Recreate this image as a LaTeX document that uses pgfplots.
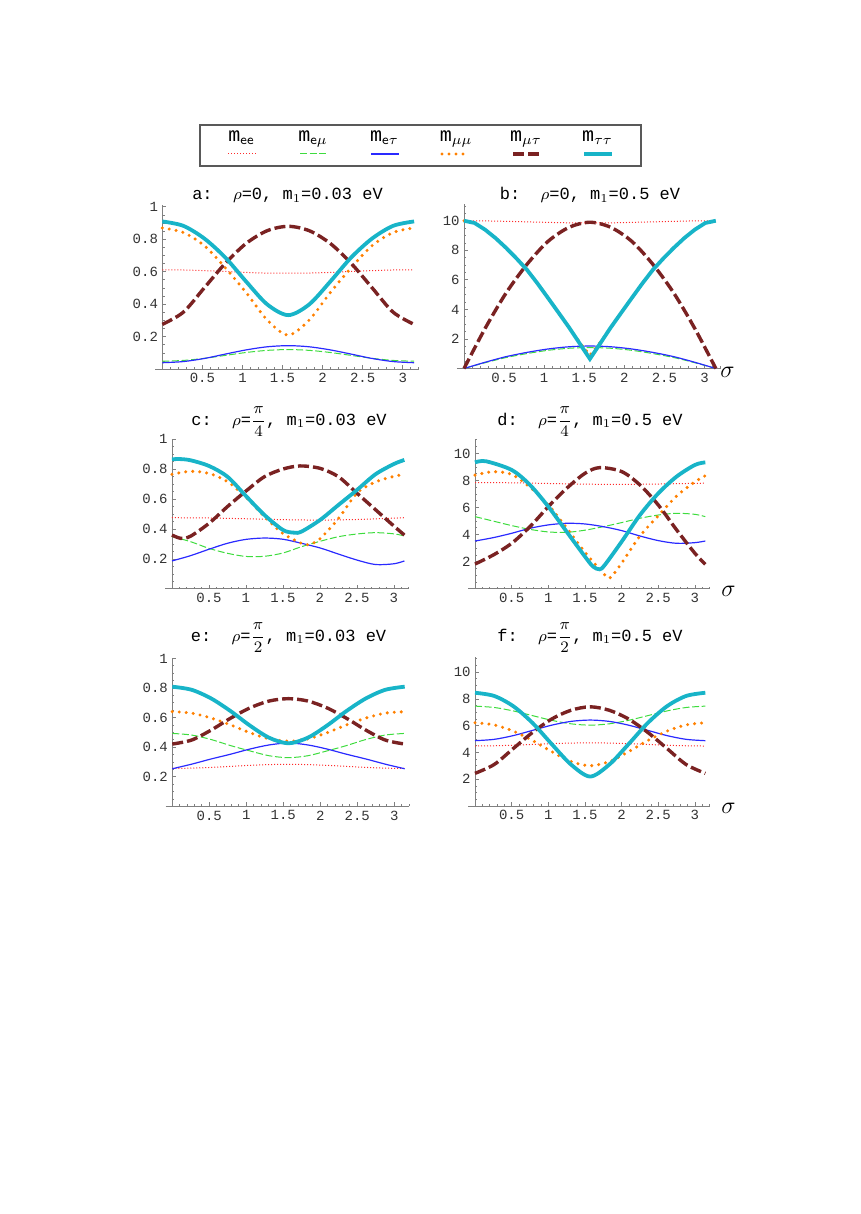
\documentclass[border=0pt]{standalone}
\usepackage{pgfplots}
\pgfplotsset{compat=1.18}
\usepackage{amsmath}
\usepackage{fontspec}
\newfontfamily\cour{Liberation Mono}
\definecolor{cee}{HTML}{FF2A2A}
\definecolor{cem}{HTML}{3EDC3E}
\definecolor{cet}{HTML}{2A2AFF}
\definecolor{cmm}{HTML}{FF8000}
\definecolor{cmt}{HTML}{7A2222}
\definecolor{ctt}{HTML}{18B4C8}
\definecolor{axgray}{HTML}{808080}

\tikzset{
  ee/.style={draw=cee, line width=0.5pt, dash pattern=on 0.5pt off 1pt},
  em/.style={draw=cem, line width=0.5pt, dash pattern=on 3.5pt off 1.3pt},
  et/.style={draw=cet, line width=0.6pt},
  mm/.style={draw=cmm, line width=1.7pt, line cap=round, dash pattern=on 0pt off 3.5pt},
  mt/.style={draw=cmt, line width=1.7pt, dash pattern=on 5.5pt off 2pt},
  tt/.style={draw=ctt, line width=1.9pt},
}
\newcommand{\tfont}{\fontsize{8.5}{10}\selectfont\cour}
\newcommand{\lab}[1]{{\fontsize{10}{11}\selectfont\cour m}$_{#1}$}

\pgfplotsset{
  mma/.style={
    scale only axis, axis lines=middle,
    axis line style={-, draw=axgray, line width=0.45pt},
    every inner x axis line/.append style={-},
    every inner y axis line/.append style={-},
    xmin=-0.09, xmax=3.2, ymin=0,
    xtick={0.5,1,1.5,2,2.5,3}, xticklabels={0.5,1,1.5,2,2.5,3},
    minor xtick={0.1,0.2,...,3.2},
    tick align=inside, major tick length=2pt, minor tick length=1.1pt,
    every tick/.style={axgray, line width=0.4pt},
    tick label style={font=\fontsize{7}{8}\selectfont\cour, text=black!80},
    xticklabel style={inner sep=1pt, yshift=-1pt},
    yticklabel style={inner sep=2pt},
    clip=false,
  },
  lowy/.style={ytick={0.2,0.4,0.6,0.8,1}, yticklabels={0.2,0.4,0.6,0.8,1},
    minor ytick={0.05,0.1,...,1.0}},
  highy/.style={ytick={2,4,6,8,10}, yticklabels={2,4,6,8,10},
    minor ytick={0.5,1,...,11}},
}

\begin{document}
\begin{tikzpicture}
\begin{scope}[x=0.5pt,y=-0.5pt]
  \path (0,0) rectangle (861,1214);
  % legend box
  \draw[black!65, line width=0.7pt] (200,125) rectangle (641,166);
  \node[anchor=base] at (241.5,142) {\lab{\mathsf{ee}}};
  \node[anchor=base] at (313,142) {\lab{\mathsf{e}\mu}};
  \node[anchor=base] at (384.5,142) {\lab{\mathsf{e}\tau}};
  \node[anchor=base] at (456,142) {\lab{\mu\mu}};
  \node[anchor=base] at (526,142) {\lab{\mu\tau}};
  \node[anchor=base] at (597.5,142) {\lab{\tau\tau}};
  \draw[ee] (228,154) -- (256,154);
  \draw[em] (300,154) -- (328,154);
  \draw[et] (371,154) -- (399,154);
  \draw[mm] (442,154) -- (468,154);
  \draw[mt] (513,154) -- (539,154);
  \draw[tt] (584,154) -- (612,154);
  % titles
  \node[anchor=base] at (287.5,200) {\tfont a:\ \ $\rho$=0, m$_1$=0.03 eV};
  \node[anchor=base] at (590,200) {\tfont b:\ \ $\rho$=0, m$_1$=0.5 eV};
  \node[anchor=base] at (289,425) {\tfont c:\ \ $\rho$=$\dfrac{\pi}{4}$, m$_1$=0.03 eV};
  \node[anchor=base] at (590,425) {\tfont d:\ \ $\rho$=$\dfrac{\pi}{4}$, m$_1$=0.5 eV};
  \node[anchor=base] at (288.5,641) {\tfont e:\ \ $\rho$=$\dfrac{\pi}{2}$, m$_1$=0.03 eV};
  \node[anchor=base] at (590,641) {\tfont f:\ \ $\rho$=$\dfrac{\pi}{2}$, m$_1$=0.5 eV};
  % sigma labels
  \node[anchor=west, inner sep=0pt] at (720,372) {\fontsize{13}{13}\selectfont$\sigma$};
  \node[anchor=west, inner sep=0pt] at (721,591) {\fontsize{13}{13}\selectfont$\sigma$};
  \node[anchor=west, inner sep=0pt] at (721,808) {\fontsize{13}{13}\selectfont$\sigma$};
\end{scope}

% ---------- a ----------
\begin{axis}[mma, lowy, at={(77.55pt,-184.6pt)}, anchor=south west,
  width=131.85pt, height=82pt, ymax=1.01]
\addplot[ee, smooth] coordinates {(0,0.612) (0.2618,0.611) (0.5236,0.607) (0.7854,0.602) (1.0472,0.596) (1.309,0.592) (1.5708,0.591) (1.8326,0.592) (2.0944,0.596) (2.3562,0.602) (2.618,0.607) (2.8798,0.611) (3.1416,0.612)};
\addplot[em, smooth] coordinates {(0,0.049) (0.2618,0.054) (0.5236,0.067) (0.7854,0.085) (1.0472,0.103) (1.309,0.116) (1.5708,0.121) (1.8326,0.116) (2.0944,0.103) (2.3562,0.085) (2.618,0.067) (2.8798,0.054) (3.1416,0.049)};
\addplot[et, smooth] coordinates {(0,0.040) (0.2618,0.047) (0.5236,0.066) (0.7854,0.093) (1.0472,0.119) (1.309,0.138) (1.5708,0.145) (1.8326,0.138) (2.0944,0.119) (2.3562,0.093) (2.618,0.066) (2.8798,0.047) (3.1416,0.040)};
\addplot[mm, smooth] coordinates {(0,0.870) (0.2618,0.842) (0.5236,0.761) (0.7854,0.625) (1.0472,0.471) (1.309,0.303) (1.5708,0.210) (1.8326,0.303) (2.0944,0.471) (2.3562,0.625) (2.618,0.761) (2.8798,0.842) (3.1416,0.870)};
\addplot[mt, smooth] coordinates {(0,0.276) (0.2618,0.351) (0.5236,0.501) (0.7854,0.652) (1.0472,0.775) (1.309,0.853) (1.5708,0.880) (1.8326,0.853) (2.0944,0.775) (2.3562,0.652) (2.618,0.501) (2.8798,0.351) (3.1416,0.276)};
\addplot[tt, smooth] coordinates {(0,0.910) (0.2618,0.883) (0.5236,0.805) (0.7854,0.688) (1.0472,0.539) (1.309,0.399) (1.5708,0.333) (1.8326,0.399) (2.0944,0.539) (2.3562,0.688) (2.618,0.805) (2.8798,0.883) (3.1416,0.910)};
\end{axis}

% ---------- b ----------
\begin{axis}[mma, highy, at={(228.4pt,-184.25pt)}, anchor=south west,
  width=131.85pt, height=82pt, ymax=11.1]
\addplot[ee, smooth] coordinates {(0,10.0) (0.2618,9.99) (0.5236,9.96) (0.7854,9.925) (1.0472,9.89) (1.309,9.86) (1.5708,9.85) (1.8326,9.86) (2.0944,9.89) (2.3562,9.925) (2.618,9.96) (2.8798,9.99) (3.1416,10.0)};
\addplot[em, smooth] coordinates {(0,0) (0.2618,0.39) (0.5236,0.74) (0.7854,1.01) (1.0472,1.23) (1.309,1.37) (1.5708,1.42) (1.8326,1.37) (2.0944,1.23) (2.3562,1.01) (2.618,0.74) (2.8798,0.39) (3.1416,0)};
\addplot[et, smooth] coordinates {(0,0) (0.2618,0.42) (0.5236,0.80) (0.7854,1.09) (1.0472,1.32) (1.309,1.47) (1.5708,1.52) (1.8326,1.47) (2.0944,1.32) (2.3562,1.09) (2.618,0.80) (2.8798,0.42) (3.1416,0)};
\addplot[mm] coordinates {(0,10.0) (0.1309,9.85) (0.2618,9.4) (0.3927,8.83) (0.5236,8.17) (0.6545,7.45) (0.7854,6.68) (0.9163,5.76) (1.0472,4.78) (1.1781,3.79) (1.309,2.79) (1.4399,1.8) (1.5708,0.9) (1.7017,1.8) (1.8326,2.79) (1.9635,3.79) (2.0944,4.78) (2.2253,5.76) (2.3562,6.68) (2.4871,7.45) (2.618,8.17) (2.7489,8.83) (2.8798,9.4) (3.0107,9.85) (3.1416,10.0)};
\addplot[mt, smooth] coordinates {(0,0) (0.2618,2.7) (0.5236,5.1) (0.7854,7.05) (1.0472,8.6) (1.309,9.55) (1.5708,9.9) (1.8326,9.55) (2.0944,8.6) (2.3562,7.05) (2.618,5.1) (2.8798,2.7) (3.1416,0)};
\addplot[tt] coordinates {(0,10.0) (0.1309,9.85) (0.2618,9.4) (0.3927,8.83) (0.5236,8.17) (0.6545,7.45) (0.7854,6.68) (0.9163,5.76) (1.0472,4.78) (1.1781,3.79) (1.309,2.79) (1.4399,1.72) (1.5708,0.65) (1.7017,1.72) (1.8326,2.79) (1.9635,3.79) (2.0944,4.78) (2.2253,5.76) (2.3562,6.68) (2.4871,7.45) (2.618,8.17) (2.7489,8.83) (2.8798,9.4) (3.0107,9.85) (3.1416,10.0)};
\end{axis}

% ---------- c ----------
\begin{axis}[mma, lowy, at={(82.65pt,-294.45pt)}, anchor=south west,
  width=121.7pt, height=74.8pt, ymax=1.0]
\addplot[ee, smooth] coordinates {(0,0.476) (0.5,0.474) (1,0.469) (1.5,0.463) (2,0.460) (2.5,0.464) (3,0.473) (3.1416,0.476)};
\addplot[em, smooth] coordinates {(0,0.350) (0.25,0.316) (0.5,0.271) (0.75,0.238) (1,0.217) (1.25,0.218) (1.5,0.240) (1.75,0.282) (2,0.318) (2.25,0.349) (2.5,0.367) (2.75,0.376) (3,0.368) (3.1416,0.354)};
\addplot[et, smooth] coordinates {(0,0.187) (0.25,0.222) (0.5,0.265) (0.75,0.305) (1,0.331) (1.25,0.340) (1.5,0.332) (1.75,0.305) (2,0.274) (2.25,0.233) (2.5,0.193) (2.75,0.163) (3,0.168) (3.1416,0.187)};
\addplot[mm, smooth] coordinates {(0,0.766) (0.25,0.786) (0.5,0.772) (0.75,0.717) (1,0.612) (1.25,0.483) (1.5,0.370) (1.75,0.305) (1.85,0.296) (2,0.335) (2.25,0.470) (2.5,0.640) (2.75,0.715) (3,0.752) (3.1416,0.766)};
\addplot[mt, smooth] coordinates {(0,0.360) (0.12,0.338) (0.25,0.352) (0.5,0.438) (0.75,0.550) (1,0.654) (1.25,0.750) (1.5,0.801) (1.73,0.822) (2,0.806) (2.25,0.750) (2.5,0.640) (2.75,0.530) (3,0.420) (3.1416,0.360)};
\addplot[tt, smooth] coordinates {(0,0.866) (0.1,0.868) (0.25,0.860) (0.5,0.822) (0.75,0.750) (1,0.621) (1.25,0.494) (1.5,0.394) (1.65,0.376) (1.75,0.383) (2,0.460) (2.25,0.561) (2.5,0.661) (2.75,0.766) (3,0.835) (3.1416,0.862)};
\end{axis}

% ---------- d ----------
\begin{axis}[mma, highy, at={(234.2pt,-294.4pt)}, anchor=south west,
  width=120.6pt, height=74.8pt, ymax=11.05]
\addplot[ee, smooth] coordinates {(0,7.85) (0.5,7.83) (1,7.78) (1.5,7.73) (2,7.71) (2.5,7.74) (3,7.79) (3.1416,7.80)};
\addplot[em, smooth] coordinates {(0,5.33) (0.25,5.00) (0.5,4.67) (0.75,4.39) (1,4.20) (1.25,4.17) (1.5,4.33) (1.75,4.59) (2,4.89) (2.25,5.21) (2.5,5.45) (2.75,5.58) (3,5.50) (3.1416,5.33)};
\addplot[et, smooth] coordinates {(0,3.53) (0.25,3.78) (0.5,4.10) (0.75,4.47) (1,4.72) (1.25,4.84) (1.5,4.79) (1.75,4.59) (2,4.30) (2.25,3.90) (2.5,3.56) (2.75,3.36) (3,3.41) (3.1416,3.53)};
\addplot[mm, smooth] coordinates {(0,8.40) (0.25,8.65) (0.5,8.45) (0.75,7.50) (1,6.20) (1.25,4.50) (1.5,2.70) (1.75,1.15) (1.84,0.80) (2,1.90) (2.25,3.90) (2.5,5.40) (2.75,6.85) (3,7.90) (3.1416,8.35)};
\addplot[mt, smooth] coordinates {(0,1.83) (0.25,2.50) (0.5,3.36) (0.75,4.59) (1,6.07) (1.25,7.42) (1.5,8.53) (1.7,8.95) (2,8.66) (2.25,7.67) (2.5,6.19) (2.75,4.35) (3,2.62) (3.1416,1.81)};
\addplot[tt, smooth] coordinates {(0,9.34) (0.15,9.42) (0.5,8.78) (0.75,7.67) (1,6.07) (1.25,4.22) (1.5,2.38) (1.61,1.64) (1.7,1.44) (1.77,1.76) (2,3.48) (2.25,5.45) (2.5,7.05) (2.75,8.29) (3,9.15) (3.1416,9.34)};
\end{axis}

% ---------- e ----------
\begin{axis}[mma, lowy, at={(82.8pt,-403.15pt)}, anchor=south west,
  width=121.7pt, height=74.3pt, ymax=1.005]
\addplot[ee, smooth] coordinates {(0,0.256) (0.2618,0.258) (0.5236,0.263) (0.7854,0.270) (1.0472,0.277) (1.309,0.282) (1.5708,0.284) (1.8326,0.282) (2.0944,0.277) (2.3562,0.270) (2.618,0.263) (2.8798,0.258) (3.1416,0.256)};
\addplot[em, smooth] coordinates {(0,0.493) (0.2618,0.482) (0.5236,0.452) (0.7854,0.411) (1.0472,0.375) (1.309,0.342) (1.5708,0.329) (1.8326,0.342) (2.0944,0.375) (2.3562,0.411) (2.618,0.452) (2.8798,0.482) (3.1416,0.493)};
\addplot[et, smooth] coordinates {(0,0.254) (0.2618,0.285) (0.5236,0.320) (0.7854,0.352) (1.0472,0.387) (1.309,0.415) (1.5708,0.428) (1.8326,0.415) (2.0944,0.387) (2.3562,0.352) (2.618,0.320) (2.8798,0.285) (3.1416,0.254)};
\addplot[mm, smooth] coordinates {(0,0.640) (0.2618,0.630) (0.5236,0.597) (0.7854,0.551) (1.0472,0.498) (1.309,0.456) (1.5708,0.440) (1.8326,0.456) (2.0944,0.498) (2.3562,0.551) (2.618,0.597) (2.8798,0.630) (3.1416,0.640)};
\addplot[mt, smooth] coordinates {(0,0.421) (0.2618,0.448) (0.5236,0.515) (0.7854,0.595) (1.0472,0.665) (1.309,0.712) (1.5708,0.728) (1.8326,0.712) (2.0944,0.665) (2.3562,0.595) (2.618,0.515) (2.8798,0.448) (3.1416,0.421)};
\addplot[tt, smooth] coordinates {(0,0.809) (0.2618,0.788) (0.5236,0.730) (0.7854,0.645) (1.0472,0.547) (1.309,0.464) (1.5708,0.426) (1.8326,0.464) (2.0944,0.547) (2.3562,0.645) (2.618,0.730) (2.8798,0.788) (3.1416,0.809)};
\end{axis}

% ---------- f ----------
\begin{axis}[mma, highy, at={(234.2pt,-403pt)}, anchor=south west,
  width=120.6pt, height=74.3pt, ymax=11.1]
\addplot[ee, smooth] coordinates {(0,4.48) (0.2618,4.50) (0.5236,4.54) (0.7854,4.60) (1.0472,4.66) (1.309,4.70) (1.5708,4.72) (1.8326,4.70) (2.0944,4.66) (2.3562,4.60) (2.618,4.54) (2.8798,4.50) (3.1416,4.48)};
\addplot[em, smooth] coordinates {(0,7.46) (0.2618,7.36) (0.5236,7.10) (0.7854,6.75) (1.0472,6.40) (1.309,6.14) (1.5708,6.04) (1.8326,6.14) (2.0944,6.40) (2.3562,6.75) (2.618,7.10) (2.8798,7.36) (3.1416,7.46)};
\addplot[et, smooth] coordinates {(0,4.88) (0.2618,4.98) (0.5236,5.26) (0.7854,5.65) (1.0472,6.04) (1.309,6.32) (1.5708,6.42) (1.8326,6.32) (2.0944,6.04) (2.3562,5.65) (2.618,5.26) (2.8798,4.98) (3.1416,4.88)};
\addplot[mm, smooth] coordinates {(0,6.22) (0.2618,6.06) (0.5236,5.59) (0.7854,4.89) (1.0472,4.06) (1.309,3.32) (1.5708,3.01) (1.8326,3.32) (2.0944,4.06) (2.3562,4.89) (2.618,5.59) (2.8798,6.06) (3.1416,6.22)};
\addplot[mt, smooth] coordinates {(0,2.44) (0.2618,3.10) (0.5236,4.30) (0.7854,5.50) (1.0472,6.50) (1.309,7.15) (1.5708,7.41) (1.8326,7.15) (2.0944,6.50) (2.3562,5.50) (2.618,4.30) (2.8798,3.10) (3.1416,2.44)};
\addplot[tt, smooth] coordinates {(0,8.46) (0.2618,8.22) (0.5236,7.45) (0.7854,6.20) (1.0472,4.62) (1.309,3.10) (1.5708,2.20) (1.8326,3.10) (2.0944,4.62) (2.3562,6.20) (2.618,7.45) (2.8798,8.22) (3.1416,8.46)};
\end{axis}
\end{tikzpicture}
\end{document}
